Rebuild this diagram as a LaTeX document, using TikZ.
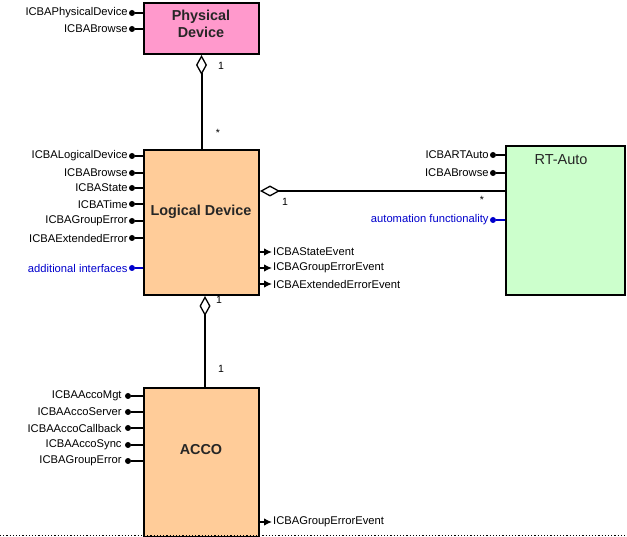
\documentclass[tikz,border=0pt]{standalone}
\usepackage{fontspec}
\setmainfont{Liberation Sans}
\usetikzlibrary{arrows.meta}
\definecolor{pdpink}{RGB}{255,153,204}
\definecolor{peach}{RGB}{255,204,153}
\definecolor{rtgreen}{RGB}{204,255,204}
\definecolor{ifblue}{RGB}{0,0,204}
\begin{document}
\begin{tikzpicture}[x=1pt,y=-1pt,
  box/.style={draw=black, line width=2pt, inner sep=0pt, anchor=north west},
  title/.style={font=\fontsize{14.4}{17}\selectfont\bfseries, align=center, text=black!85},
  lbl/.style={font=\fontsize{11.2}{13}\selectfont, inner sep=1pt},
  mult/.style={font=\fontsize{10.5}{12}\selectfont, inner sep=0pt},
  dot/.style={circle, fill=black, inner sep=0pt, minimum size=6pt},
  stick/.style={line width=1.3pt},
  conn/.style={line width=2pt},
  agg/.style={conn, {Diamond[open, length=20pt, width=11pt, line width=1.3pt]}-},
  evt/.style={line width=1.3pt, -{Latex[length=8pt, width=7.5pt]}}
]
\useasboundingbox (0,0) rectangle (627,537);

% boxes
\node[box, fill=pdpink, minimum width=115pt, minimum height=51pt] (pd) at (143,2) {};
\node[box, fill=peach, minimum width=115pt, minimum height=145pt] (ld) at (143,149) {};
\node[box, fill=rtgreen, minimum width=119pt, minimum height=149pt] (rt) at (505,145) {};
\node[box, fill=peach, minimum width=115pt, minimum height=149pt] (ac) at (143,387) {};

\node[title] (pdt) at (201,24) {Physical\\[0pt]Device};
\node[title] (ldt) at (201,212) {Logical Device};
\node[font=\fontsize{14.5}{16}\selectfont, text=black!85] (rtt) at (561,160) {RT-Auto};
\node[title] (act) at (201,450) {ACCO};

% aggregation connectors
\draw[agg] (pd.south) -- (ld.north);
\node[mult] (m1) at (221,66) {1};
\node[mult] (m2) at (218,133) {*};

\draw[agg] ([xshift=3.5pt]ld.south) -- ([xshift=3.5pt]ac.north);
\node[mult] (m3) at (219,300) {1};
\node[mult] (m4) at (221,369) {1};

\draw[agg] ([yshift=31.5pt]ld.east) -- ([yshift=31.5pt]ld.east -| rt.west);
\node[mult] (m5) at (285,202) {1};
\node[mult] (m6) at (482,200) {*};

% Physical Device interfaces
\foreach \y/\t [count=\i] in {13/ICBAPhysicalDevice, 29/ICBABrowse}{
  \node[dot] (pdd\i) at (132,\y) {};
  \node[lbl, anchor=east] (pdl\i) at (pdd\i.west) {\t};
  \draw[stick] (pdd\i) -- (pdd\i -| pd.west);
}

% Logical Device interfaces
\foreach \y/\t [count=\i] in {156/ICBALogicalDevice, 173/ICBABrowse, 188/ICBAState, 204/ICBATime, 221/ICBAGroupError, 238/ICBAExtendedError}{
  \node[dot] (ldd\i) at (132,\y) {};
  \node[lbl, anchor=east] (ldl\i) at (ldd\i.west) {\t};
  \draw[stick] (ldd\i) -- (ldd\i -| ld.west);
}
\node[dot, fill=ifblue] (lddx) at (132,268) {};
\node[lbl, anchor=east, text=ifblue] (ldlx) at (lddx.west) {additional interfaces};
\draw[stick, ifblue] (lddx) -- (lddx -| ld.west);

% Logical Device events
\foreach \y/\t [count=\i] in {252/ICBAStateEvent, 268/ICBAGroupErrorEvent, 284/ICBAExtendedErrorEvent}{
  \coordinate (lde\i) at (272,\y);
  \draw[evt] (lde\i -| ld.east) -- (lde\i);
  \node[lbl, anchor=west] (ldel\i) at (lde\i) {\t};
}

% RT-Auto interfaces
\foreach \y/\t [count=\i] in {155/ICBARTAuto, 173/ICBABrowse}{
  \node[dot] (rtd\i) at (493,\y) {};
  \node[lbl, anchor=east] (rtl\i) at (rtd\i.west) {\t};
  \draw[stick] (rtd\i) -- (rtd\i -| rt.west);
}
\node[dot, fill=ifblue] (rtdx) at (493,220) {};
\node[lbl, anchor=east, text=ifblue] (rtlx) at (rtdx.west) {automation functionality};
\draw[stick, ifblue] (rtdx) -- (rtdx -| rt.west);

% ACCO interfaces
\foreach \y/\t [count=\i] in {396/ICBAAccoMgt, 412/ICBAAccoServer, 428/ICBAAccoCallback, 445/ICBAAccoSync, 461/ICBAGroupError}{
  \node[dot] (acd\i) at (128,\y) {};
  \node[lbl, anchor=east] (acl\i) at ([xshift=-2pt]acd\i.west) {\t};
  \draw[stick] (acd\i) -- (acd\i -| ac.west);
}
\coordinate (ace1) at (272,522);
\draw[evt] (ace1 -| ac.east) -- (ace1);
\node[lbl, anchor=west] (acel1) at (ace1) {ICBAGroupErrorEvent};

% bottom dotted border
\draw[dotted, line width=1.2pt] (0,535.5) -- (627,535.5);
\end{tikzpicture}
\end{document}
